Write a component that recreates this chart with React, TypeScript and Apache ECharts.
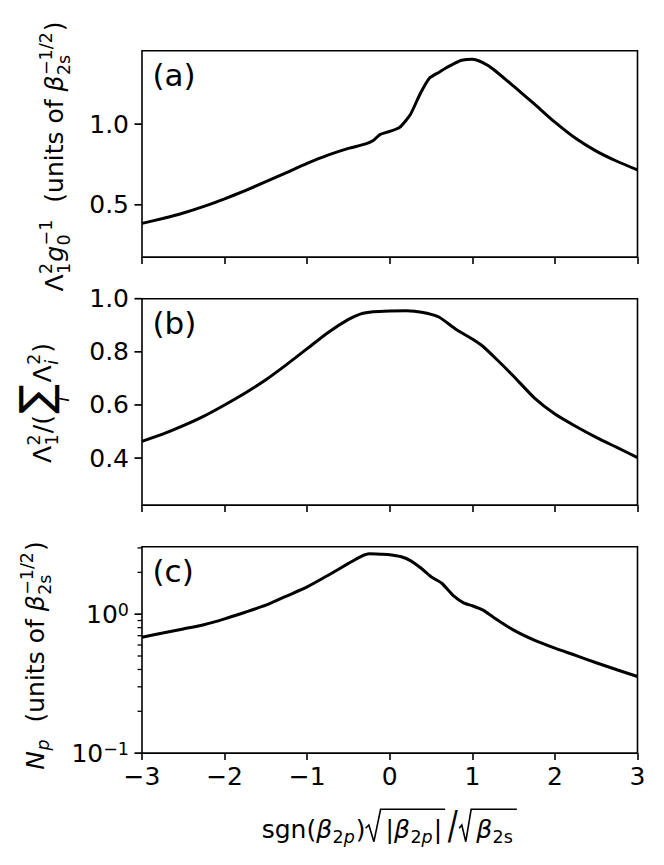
import React, { useEffect, useRef } from "react";
import * as echarts from "echarts";

// ---------- data ----------
const xTicks = [-3, -2, -1, 0, 1, 2, 3];
const yTicksA = [0.5, 1.0];
const yTicksB = [0.4, 0.6, 0.8, 1.0];
const yTicksC = [0.1, 1];
const minorTicksC = [0.2, 0.3, 0.4, 0.5, 0.6, 0.7, 0.8, 0.9, 2, 3];
const xRange = [-3, 3];
const yRangeA = [0.176, 1.455];
const yRangeB = [0.223, 1.0];
const yRangeC = [0.1, 3.06];
const panelLabels = ["(a)", "(b)", "(c)"];

const xA = [-3, -2.75, -2.5, -2.25, -2, -1.75, -1.5, -1.25, -1, -0.75, -0.5, -0.3, -0.2, -0.12, 0, 0.12, 0.25, 0.37, 0.48, 0.6, 0.68, 0.78, 0.87, 1.0, 1.12, 1.25, 1.5, 1.75, 2.0, 2.25, 2.5, 2.75, 3.0];
const yA = [0.385, 0.415, 0.449, 0.49, 0.537, 0.588, 0.643, 0.7, 0.757, 0.808, 0.85, 0.876, 0.898, 0.935, 0.955, 0.98, 1.06, 1.19, 1.285, 1.322, 1.348, 1.375, 1.396, 1.402, 1.383, 1.342, 1.235, 1.125, 1.012, 0.912, 0.833, 0.77, 0.716];

const xB = [-3, -2.75, -2.5, -2.25, -2, -1.75, -1.5, -1.25, -1, -0.75, -0.5, -0.35, -0.2, 0, 0.2, 0.3, 0.45, 0.6, 0.8, 1.0, 1.13, 1.3, 1.5, 1.75, 2.0, 2.25, 2.5, 2.75, 3.0];
const yB = [0.463, 0.49, 0.522, 0.558, 0.6, 0.645, 0.695, 0.752, 0.812, 0.872, 0.922, 0.943, 0.951, 0.954, 0.955, 0.953, 0.945, 0.93, 0.885, 0.848, 0.82, 0.77, 0.708, 0.627, 0.566, 0.52, 0.478, 0.44, 0.402];

const xC = [-3, -2.75, -2.5, -2.25, -2, -1.75, -1.5, -1.25, -1, -0.75, -0.5, -0.35, -0.25, -0.1, 0, 0.13, 0.25, 0.38, 0.5, 0.63, 0.77, 0.9, 1.0, 1.13, 1.25, 1.5, 1.75, 2.0, 2.25, 2.5, 2.75, 3.0];
const yC = [0.683, 0.731, 0.783, 0.84, 0.925, 1.033, 1.16, 1.35, 1.57, 1.9, 2.32, 2.6, 2.72, 2.7, 2.68, 2.6, 2.43, 2.14, 1.86, 1.67, 1.36, 1.2, 1.15, 1.07, 0.955, 0.767, 0.65, 0.569, 0.505, 0.447, 0.398, 0.356];

// ---------- layout ----------
const FF = "DejaVu Sans";
const F = 25;
const SS = 0.7;
const GL = 142;
const GW = 495.5;
const GH = 206.4;
const TOPS = [50.7, 298.7, 546.7];

let _ctx: CanvasRenderingContext2D | null = null;
function mw(t: string, s: number, it?: boolean) {
  if (!_ctx) _ctx = document.createElement("canvas").getContext("2d");
  const c = _ctx as CanvasRenderingContext2D;
  c.font = `${it ? "italic " : ""}${s}px "DejaVu Sans"`;
  return c.measureText(t).width;
}

function txt(t: string, x: number, by: number, s: number, it?: boolean, sx = 1, sy = 1, center = false) {
  return {
    type: "text",
    x,
    y: center ? by : by - 0.32 * s,
    scaleX: sx,
    scaleY: sy,
    silent: true,
    style: {
      text: t,
      fontSize: s,
      fontFamily: FF,
      fontStyle: it ? "italic" : "normal",
      fill: "#000",
      align: "left",
      verticalAlign: "middle",
    },
  };
}

type Tok = { t: string; it?: boolean };
type Item =
  | { k: "t"; t: string; it?: boolean; s?: number; dy?: number }
  | { k: "tall"; t: string; s: number; sx: number; sy: number; cy: number; pad: number }
  | { k: "ss"; sup?: Tok[]; sub?: Tok[] }
  | { k: "sum"; under: Tok[] }
  | { k: "sqrt"; rw: number; body: Item[] }
  | { k: "sp"; w: number };

function runToks(toks: Tok[], x0: number, by: number, s: number, els: any[]) {
  let x = x0;
  for (const tk of toks) {
    els.push(txt(tk.t, x, by, s, tk.it));
    x += mw(tk.t, s, tk.it);
  }
  return x - x0;
}

function layout(items: Item[], x0: number): { els: any[]; w: number } {
  const els: any[] = [];
  let x = x0;
  const s2 = F * SS;
  for (const it of items) {
    if (it.k === "t") {
      const s = it.s ?? F;
      els.push(txt(it.t, x, it.dy ?? 0, s, it.it));
      x += mw(it.t, s, it.it);
    } else if (it.k === "tall") {
      els.push(txt(it.t, x + it.pad, it.cy, it.s, false, it.sx, it.sy, true));
      x += mw(it.t, it.s) * it.sx + 2 * it.pad;
    } else if (it.k === "sp") {
      x += it.w;
    } else if (it.k === "ss") {
      const both = !!(it.sup && it.sub);
      let w = 0;
      if (it.sup) w = Math.max(w, runToks(it.sup, x + 0.5, -0.42 * F, s2, els));
      if (it.sub) w = Math.max(w, runToks(it.sub, x + 0.5, (both ? 0.3 : 0.22) * F, s2, els));
      x += w + 1.5;
    } else if (it.k === "sum") {
      const S = 44;
      const w = mw("\u2211", S);
      els.push(txt("\u2211", x + 1, 0, S));
      let uw = 0;
      for (const tk of it.under) uw += mw(tk.t, s2, tk.it);
      runToks(it.under, x + 1 + (w - uw) / 2, 18.5, s2, els);
      x += w + 3;
    } else if (it.k === "sqrt") {
      const rw = it.rw;
      const gap = 5;
      const body = layout(it.body, x + rw + gap);
      const yt = -27.7;
      const yb = 4.7;
      const k = rw / 15;
      els.push({
        type: "polyline",
        silent: true,
        shape: {
          points: [
            [x, -8.7],
            [x + 3.3 * k, -12],
            [x + 8.3 * k, yb],
            [x + rw, yt],
            [x + rw + gap + body.w + 3, yt],
          ],
        },
        style: { stroke: "#000", lineWidth: 1.6, fill: null, lineJoin: "miter" },
      });
      els.push(...body.els);
      x += rw + gap + body.w + 4;
    }
  }
  return { els, w: x - x0 };
}

function mathGroup(items: Item[], cx: number, by: number, rotated: boolean) {
  const w = layout(items, 0).w;
  const res = layout(items, -w / 2);
  return {
    type: "group",
    x: cx,
    y: by,
    rotation: rotated ? Math.PI / 2 : 0,
    silent: true,
    children: res.els,
  };
}

const betaScripts: Item = {
  k: "ss",
  sup: [{ t: "\u22121/2" }],
  sub: [{ t: "2" }, { t: "s" }],
};

const nameA: Item[] = [
  { k: "t", t: "\u039b" },
  { k: "ss", sup: [{ t: "2" }], sub: [{ t: "1" }] },
  { k: "t", t: "g", it: true },
  { k: "ss", sup: [{ t: "\u22121" }], sub: [{ t: "0" }] },
  { k: "t", t: "  (units of " },
  { k: "t", t: "\u03b2", it: true },
  betaScripts,
  { k: "t", t: ")" },
];

const nameB: Item[] = [
  { k: "t", t: "\u039b" },
  { k: "ss", sup: [{ t: "2" }], sub: [{ t: "1" }] },
  { k: "t", t: "/(" },
  { k: "sum", under: [{ t: "i", it: true }] },
  { k: "t", t: "\u039b" },
  { k: "ss", sup: [{ t: "2" }], sub: [{ t: "i", it: true }] },
  { k: "t", t: ")" },
];

const nameC: Item[] = [
  { k: "t", t: "N", it: true },
  { k: "ss", sub: [{ t: "p", it: true }] },
  { k: "t", t: "  (units of " },
  { k: "t", t: "\u03b2", it: true },
  betaScripts,
  { k: "t", t: ")" },
];

const nameX: Item[] = [
  { k: "t", t: "sgn(" },
  { k: "t", t: "\u03b2", it: true },
  { k: "ss", sub: [{ t: "2" }, { t: "p", it: true }] },
  { k: "t", t: ")" },
  {
    k: "sqrt",
    rw: 15,
    body: [
      { k: "t", t: "|" },
      { k: "t", t: "\u03b2", it: true },
      { k: "ss", sub: [{ t: "2" }, { t: "p", it: true }] },
      { k: "t", t: "|" },
    ],
  },
  { k: "tall", t: "/", s: 22, sx: 1.35, sy: 1.8, cy: -11.5, pad: 1.5 },
  {
    k: "sqrt",
    rw: 12,
    body: [
      { k: "t", t: "\u03b2", it: true },
      { k: "ss", sub: [{ t: "2" }, { t: "s" }] },
    ],
  },
];

const fmtX = (v: number) => (v < 0 ? "\u2212" + Math.abs(v) : String(v));
const fmtLog = (v: number) => {
  const e = Math.round(Math.log10(v));
  if (Math.abs(v - Math.pow(10, e)) > 1e-6 * Math.pow(10, e)) return "";
  return `{b|10}{s|${e < 0 ? "\u2212" : ""}${Math.abs(e)}}`;
};

function buildOption() {
  const tickStyle = { color: "#000", width: 1.6 };
  const grids = TOPS.map((t) => ({
    left: GL,
    top: t,
    width: GW,
    height: GH,
    show: true,
    borderColor: "#000",
    borderWidth: 1.6,
    backgroundColor: "transparent",
    containLabel: false,
    outerBoundsMode: "none",
  }));
  const xAxis = [0, 1, 2].map((i) => ({
    type: "value",
    gridIndex: i,
    position: "bottom",
    min: xRange[0],
    max: xRange[1],
    interval: 1,
    axisLine: { show: false, onZero: false },
    splitLine: { show: false },
    axisTick: { show: true, inside: false, length: 7, lineStyle: tickStyle, customValues: xTicks },
    axisLabel: {
      show: i === 2,
      customValues: xTicks,
      margin: 11,
      color: "#000",
      fontSize: F,
      fontFamily: FF,
      formatter: fmtX,
    },
  }));
  const yBase = {
    type: "value",
    position: "left",
    axisLine: { show: false, onZero: false },
    splitLine: { show: false },
  };
  const yAxis = [
    {
      ...yBase,
      gridIndex: 0,
      min: yRangeA[0],
      max: yRangeA[1],
      axisTick: { show: false },
      axisLabel: { customValues: yTicksA, margin: 13, color: "#000", fontSize: F, fontFamily: FF, formatter: (v: number) => v.toFixed(1) },
    },
    {
      ...yBase,
      gridIndex: 1,
      min: yRangeB[0],
      max: yRangeB[1],
      axisTick: { show: false },
      axisLabel: { customValues: yTicksB, margin: 13, color: "#000", fontSize: F, fontFamily: FF, formatter: (v: number) => v.toFixed(1) },
    },
    {
      type: "log",
      logBase: 10,
      position: "left",
      gridIndex: 2,
      min: yRangeC[0],
      max: yRangeC[1],
      axisLine: { show: false, onZero: false },
      splitLine: { show: false },
      minorTick: { show: false },
      axisTick: { show: false },
      axisLabel: {
        margin: 13,
        showMaxLabel: false,
        color: "#000",
        fontFamily: FF,
        formatter: fmtLog,
        rich: {
          b: { fontSize: F, fontFamily: FF, color: "#000" },
          s: { fontSize: F * SS, fontFamily: FF, color: "#000", padding: [0, 0, 9, 0] },
        },
      },
    },
  ];
  const lines = [
    [xA, yA],
    [xB, yB],
    [xC, yC],
  ].map(([xs, ys], i) => ({
    type: "line",
    xAxisIndex: i,
    yAxisIndex: i,
    data: xs.map((x, j) => [x, ys[j]]),
    showSymbol: false,
    symbol: "none",
    silent: true,
    smooth: 0.2,
    lineStyle: { color: "#000", width: 3 },
    z: 3,
  }));

  return {
    animation: false,
    backgroundColor: "#fff",
    textStyle: { fontFamily: FF },
    grid: grids,
    xAxis,
    yAxis,
    series: lines,
  };
}

// y-axis ticks placed through the library's own scales (convertToPixel)
function yTickMarks(chart: any, grid: number, values: number[], len: number, width: number, out: any[]) {
  values.forEach((v) => {
    const p = chart.convertToPixel({ xAxisIndex: grid, yAxisIndex: grid }, [xRange[0], v]);
    if (!p || !isFinite(p[0]) || !isFinite(p[1])) return;
    out.push({
      type: "rect",
      silent: true,
      z: 50,
      shape: { x: p[0] - len, y: p[1] - width / 2, width: len, height: width },
      style: { fill: "#000" },
    });
  });
}

function buildGraphics(chart: any) {
  const graphics: any[] = [];
  panelLabels.forEach((lab, i) => {
    graphics.push({
      type: "text",
      x: 152.5,
      y: TOPS[i] + 24.5,
      silent: true,
      style: { text: lab, fontSize: 31, fontFamily: FF, fill: "#000", align: "left", verticalAlign: "middle" },
    });
  });
  graphics.push(mathGroup(nameA, 62, 156.5, true));
  graphics.push(mathGroup(nameB, 50, 403, true));
  graphics.push(mathGroup(nameC, 43, 655.5, true));
  graphics.push(mathGroup(nameX, GL + GW / 2, 837, false));
  yTickMarks(chart, 0, yTicksA, 7.5, 1.7, graphics);
  yTickMarks(chart, 1, yTicksB, 7.5, 1.7, graphics);
  yTickMarks(chart, 2, yTicksC, 7.5, 1.7, graphics);
  yTickMarks(chart, 2, minorTicksC, 4.5, 1.3, graphics);
  return graphics;
}

export default function App() {
  const ref = useRef<HTMLDivElement>(null);
  useEffect(() => {
    if (!ref.current) return;
    const chart = echarts.init(ref.current, undefined, { renderer: "svg" });
    chart.setOption(buildOption() as any);
    chart.setOption({ graphic: { elements: buildGraphics(chart) } } as any);
    return () => chart.dispose();
  }, []);
  return (
    <div
      ref={ref}
      style={{ position: "absolute", left: 0, top: 0, width: 664, height: 865, background: "#fff" }}
    />
  );
}
